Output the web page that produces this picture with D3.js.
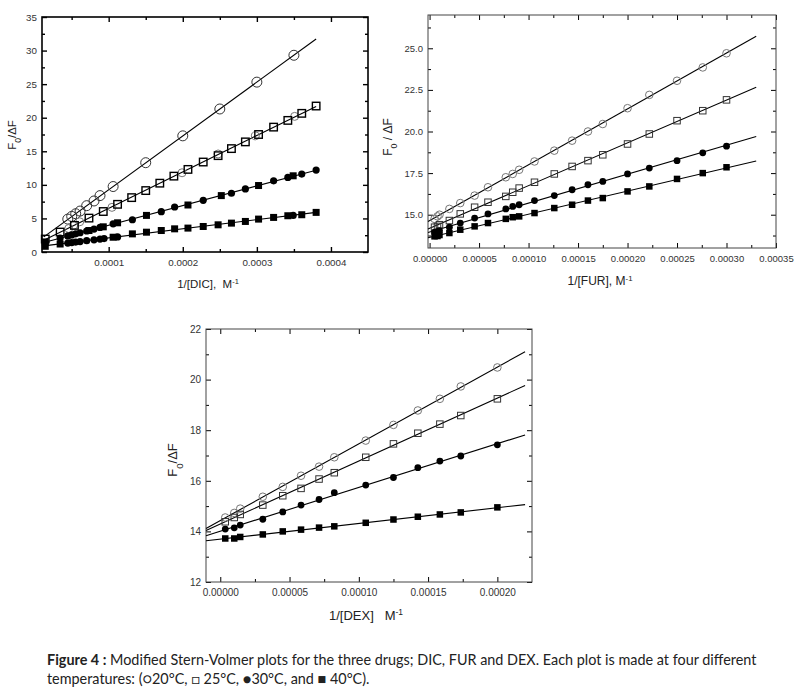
<!DOCTYPE html>
<html><head><meta charset="utf-8">
<script src="https://cdn.jsdelivr.net/npm/d3@7"></script>
<style>
body{margin:0;background:#fff;}
svg{display:block;}
.ax text{font-family:"Liberation Sans",Arial,sans-serif;font-size:9.5px;fill:#333;}
.ttl{font-family:"Liberation Sans",Arial,sans-serif;fill:#222;white-space:pre;}
.cap{font-family:Lato,"Open Sans",sans-serif;fill:#222;}
</style>
</head><body><svg id="c" width="800" height="698"></svg>
<script>
// ---------------- DATA ----------------
// Panel 1: DIC
const dicX20 = [0.0000448,0.0000501,0.0000555,0.0000614,0.0000703,0.0000802,0.0000883,0.000106,0.00015,0.0002,0.00025,0.0003,0.00035];
const dicY20 = [4.9,5.3,5.7,6.1,6.9,7.6,8.4,9.75,13.3,17.3,21.3,25.3,29.3];
const dicX25 = [0.0000144,0.0000345,0.0000538,0.0000734,0.0000927,0.000112,0.000131,0.00015,0.000169,0.000188,0.000207,0.0002276,0.0002477,0.0002657,0.0002845,0.0003023,0.0003226,0.0003418,0.0003606,0.00038];
const dicY25 = [1.93,2.97,3.96,5.05,6.03,7.1,8.1,9.15,10.25,11.3,12.3,13.4,14.35,15.4,16.4,17.5,18.6,19.6,20.65,21.74];
const dicX25c = [0.0000461,0.0000528,0.0000609,0.0001044,0.000199,0.0002477,0.000298,0.000351];
const dicY25c = [3.5,4.0,4.5,6.65,11.8,14.6,17.3,20.2];
const dicX30 = [0.0000345,0.0000448,0.0000501,0.0000555,0.0000614,0.0000703,0.0000802,0.0000883,0.000106,0.000132,0.000171,0.000189,0.0002276,0.0002657,0.0002845,0.0003226,0.0003418,0.0003606,0.00038];
const dicY30 = [2.08,2.4,2.55,2.7,2.87,3.13,3.42,3.66,4.2,4.8,6.0,6.7,7.7,8.75,9.4,10.6,11.1,11.6,12.2];
const dicX30s = [0.0000144,0.0000734,0.0000927,0.000112,0.000151,0.000207,0.000252,0.0003023,0.000349];
const dicY30s = [1.5,3.2,3.75,4.35,5.45,7.0,8.4,9.9,11.35];
const dicX40 = [0.0000144,0.0000345,0.000106,0.000132,0.000151,0.000171,0.000189,0.000207,0.0002276,0.0002477,0.0002657,0.0002845,0.0003023,0.0003226,0.0003418,0.0003606,0.00038];
const dicY40 = [0.85,1.19,2.2,2.7,2.95,3.2,3.45,3.56,3.8,4.05,4.3,4.55,4.9,5.15,5.4,5.55,5.9];
const dicX40c = [0.0000448,0.0000501,0.0000555,0.0000614,0.0000703,0.0000802,0.0000883,0.0000938,0.000112,0.000349];
const dicY40c = [1.33,1.4,1.48,1.56,1.68,1.81,1.92,2.0,2.25,5.45];
const dicXTicks = [0.0001,0.0002,0.0003,0.0004];
const dicYTicks = [0,5,10,15,20,25,30,35];

// Panel 2: FUR
const furX = [0.0000050,0.0000080,0.0000100,0.0000200,0.0000310,0.0000455,0.0000590,0.0000770,0.0000840,0.0000905,0.000106,0.000126,0.000144,0.000160,0.000175,0.000200,0.000222,0.000250,0.000276,0.000300];
const furY20 = [14.75,14.9,15.0,15.35,15.7,16.15,16.65,17.25,17.45,17.7,18.2,18.85,19.45,20.0,20.45,21.4,22.2,23.05,23.85,24.7];
const furY25 = [14.25,14.3,14.4,14.65,15.05,15.45,15.75,16.1,16.35,16.6,16.95,17.45,17.9,18.25,18.6,19.25,19.85,20.65,21.25,21.9];
const furY30 = [13.95,14.0,14.05,14.25,14.5,14.8,15.05,15.35,15.5,15.6,15.85,16.15,16.5,16.8,17.0,17.45,17.8,18.25,18.72,19.12];
const furY40 = [13.7,13.72,13.78,13.9,14.1,14.3,14.5,14.75,14.85,14.9,15.1,15.4,15.6,15.85,16.0,16.4,16.7,17.15,17.5,17.85];
const furXTicks = [0,0.00005,0.0001,0.00015,0.0002,0.00025,0.0003,0.00035];
const furYTicks = [15,17.5,20,22.5,25];

// Panel 3: DEX
const dexX = [0.0000036,0.0000101,0.0000144,0.0000307,0.0000451,0.0000583,0.0000713,0.0000823,0.000105,0.000125,0.0001426,0.0001585,0.0001736,0.0002];
const dexY20 = [14.55,14.73,14.9,15.37,15.76,16.2,16.56,16.93,17.59,18.21,18.78,19.24,19.73,20.48];
const dexY25 = [14.38,14.55,14.67,15.04,15.41,15.7,16.07,16.32,16.93,17.46,17.88,18.24,18.58,19.24];
const dexY30 = [14.09,14.14,14.25,14.48,14.77,15.04,15.26,15.53,15.83,16.13,16.52,16.78,16.98,17.42];
const dexY40 = [13.72,13.72,13.78,13.88,14.0,14.07,14.15,14.2,14.34,14.47,14.58,14.67,14.75,14.95];
const dexXTicks = [0,0.00005,0.0001,0.00015,0.0002];
const dexYTicks = [12,14,16,18,20,22];

const captionBold = "Figure 4 :";
const captionLine1 = " Modified Stern-Volmer plots for the three drugs; DIC, FUR and DEX. Each plot is made at four different";
const captionLine2 = "temperatures: (\u25CB20\u00B0C, \u25A1 25\u00B0C, \u25CF30\u00B0C, and \u25A0 40\u00B0C).";

// ---------------- DRAW ----------------
const svg = d3.select('#c');

function fit(xs, ys){
  const n = xs.length, mx = d3.mean(xs), my = d3.mean(ys);
  let sxy = 0, sxx = 0;
  for (let i=0;i<n;i++){ sxy += (xs[i]-mx)*(ys[i]-my); sxx += (xs[i]-mx)**2; }
  const b = sxy/sxx; return {b, a: my - b*mx};
}
function zip(xs, ys){ return xs.map((v,i)=>[v, ys[i]]); }

function marker(g, type, px, py, st){
  if (type === 'oc') g.append('circle').attr('cx',px).attr('cy',py).attr('r',st.r).attr('fill','none').attr('stroke',st.c||'#555').attr('stroke-width',st.w||1);
  else if (type === 'fc') g.append('circle').attr('cx',px).attr('cy',py).attr('r',st.r).attr('fill','#000');
  else if (type === 'os') g.append('rect').attr('x',px-st.s/2).attr('y',py-st.s/2).attr('width',st.s).attr('height',st.s).attr('fill','none').attr('stroke',st.c||'#000').attr('stroke-width',st.w||1.2);
  else if (type === 'fs') g.append('rect').attr('x',px-st.s/2).attr('y',py-st.s/2).attr('width',st.s).attr('height',st.s).attr('fill','#000');
}

function panel(o){
  const g = svg.append('g');
  const x = d3.scaleLinear().domain(o.xDomain).range([o.left, o.right]);
  const y = d3.scaleLinear().domain(o.yDomain).range([o.bottom, o.top]);
  const style = s => s.call(q=>q.select('.domain').remove())
    .call(q=>q.selectAll('line').attr('stroke','#000').attr('stroke-width',o.tw||1))
    .call(q=>q.selectAll('text').style('font-size',(o.lfs||9.5)+'px'));
  // bottom
  g.append('g').attr('class','ax').attr('transform',`translate(0,${o.bottom})`)
    .call(d3.axisBottom(x).tickValues(o.xMajor).tickFormat(o.xFmt).tickSize(-5).tickPadding(7)).call(style);
  g.append('g').attr('class','ax').attr('transform',`translate(0,${o.bottom})`)
    .call(d3.axisBottom(x).tickValues(o.xMinor).tickFormat('').tickSize(-3)).call(style);
  // top
  g.append('g').attr('class','ax').attr('transform',`translate(0,${o.top})`)
    .call(d3.axisTop(x).tickValues(o.xMajor).tickFormat('').tickSize(-5)).call(style);
  g.append('g').attr('class','ax').attr('transform',`translate(0,${o.top})`)
    .call(d3.axisTop(x).tickValues(o.xMinor).tickFormat('').tickSize(-3)).call(style);
  // left
  g.append('g').attr('class','ax').attr('transform',`translate(${o.left},0)`)
    .call(d3.axisLeft(y).tickValues(o.yMajor).tickFormat(o.yFmt).tickSize(-5).tickPadding(5)).call(style);
  g.append('g').attr('class','ax').attr('transform',`translate(${o.left},0)`)
    .call(d3.axisLeft(y).tickValues(o.yMinor).tickFormat('').tickSize(-3)).call(style);
  // right
  g.append('g').attr('class','ax').attr('transform',`translate(${o.right},0)`)
    .call(d3.axisRight(y).tickValues(o.yMajor).tickFormat('').tickSize(-5)).call(style);
  g.append('g').attr('class','ax').attr('transform',`translate(${o.right},0)`)
    .call(d3.axisRight(y).tickValues(o.yMinor).tickFormat('').tickSize(-3)).call(style);
  // frame
  g.append('rect').attr('x',o.left).attr('y',o.top).attr('width',o.right-o.left).attr('height',o.bottom-o.top)
    .attr('fill','none').attr('stroke',o.fc||'#000').attr('stroke-width',o.fw||1);
  // fit lines
  const line = d3.line().x(d=>x(d[0])).y(d=>y(d[1]));
  o.lines.forEach(L=>{
    const f = fit(L.xs, L.ys);
    const pts = L.ext.map(v=>[v, f.a + f.b*v]);
    g.append('path').attr('d', line(pts)).attr('fill','none').attr('stroke','#000').attr('stroke-width',1.1);
  });
  // markers
  o.series.forEach(S=>{
    zip(S.xs, S.ys).forEach(d=>marker(g, S.m, x(d[0]), y(d[1]), S.st));
  });
  // axis titles
  const xt = g.append('text').attr('class','ttl').attr('xml:space','preserve').attr('x',o.xtx).attr('y',o.xty).attr('text-anchor','middle').attr('font-size',o.tfs||11.5);
  o.xTitle(xt);
  const yt = g.append('text').attr('class','ttl').attr('transform',`translate(${o.ytx},${o.yty}) rotate(-90)`).attr('text-anchor','middle').attr('font-size',o.tfs||11.5);
  o.yTitle(yt);
}

function yTitleF(sep){
  return t=>{ t.append('tspan').text('F'); t.append('tspan').attr('baseline-shift','sub').attr('font-size','75%').text('0');
    t.append('tspan').text(sep+'\u0394F'); };
}
function xTitleM(main){
  return t=>{ t.append('tspan').text(main); t.append('tspan').attr('baseline-shift','super').attr('font-size','65%').text('-1'); };
}

// Panel DIC
panel({
  left:42, right:368, top:17, bottom:252, fw:1.6, tw:1.4, lfs:9.8,
  xDomain:[0.00001,0.00045], yDomain:[0,35],
  xMajor:dicXTicks, xMinor:[0.00005,0.00015,0.00025,0.00035],
  yMajor:dicYTicks, yMinor:[2.5,7.5,12.5,17.5,22.5,27.5,32.5],
  xFmt:d=>d.toFixed(4), yFmt:d3.format('d'),
  lines:[
    {xs:dicX20, ys:dicY20, ext:[0.0000125,0.00038]},
    {xs:dicX25.concat(dicX25c), ys:dicY25.concat(dicY25c), ext:[0.0000125,0.00038]},
    {xs:dicX30.concat(dicX30s), ys:dicY30.concat(dicY30s), ext:[0.0000125,0.00038]},
    {xs:dicX40.concat(dicX40c), ys:dicY40.concat(dicY40c), ext:[0.0000125,0.00038]}
  ],
  series:[
    {xs:dicX20, ys:dicY20, m:'oc', st:{r:5, c:'#333', w:1}},
    {xs:dicX25c, ys:dicY25c, m:'oc', st:{r:4, c:'#777', w:1}},
    {xs:dicX25, ys:dicY25, m:'os', st:{s:7.5, c:'#000', w:1.4}},
    {xs:dicX30, ys:dicY30, m:'fc', st:{r:3.6}},
    {xs:dicX30s, ys:dicY30s, m:'fs', st:{s:7}},
    {xs:dicX40, ys:dicY40, m:'fs', st:{s:7}},
    {xs:dicX40c, ys:dicY40c, m:'fc', st:{r:3.6}}
  ],
  xtx:208, xty:288, ytx:16, yty:135,
  xTitle:xTitleM('1/[DIC],\u00A0\u00A0M'), yTitle:yTitleF('/')
});

// Panel FUR
panel({
  left:428, right:776, top:15, bottom:248, fc:'#444',
  xDomain:[-0.0000016,0.00035], yDomain:[13,27],
  xMajor:furXTicks, xMinor:[0.000025,0.000075,0.000125,0.000175,0.000225,0.000275,0.000325],
  yMajor:furYTicks, yMinor:[13.75,16.25,18.75,21.25,23.75,26.25],
  xFmt:d=>d.toFixed(5), yFmt:d=>d.toFixed(1),
  lines:[
    {xs:furX, ys:furY20, ext:[-0.0000016,0.00033]},
    {xs:furX, ys:furY25, ext:[-0.0000016,0.00033]},
    {xs:furX, ys:furY30, ext:[-0.0000016,0.00033]},
    {xs:furX, ys:furY40, ext:[-0.0000016,0.00033]}
  ],
  series:[
    {xs:furX, ys:furY20, m:'oc', st:{r:3.8, c:'#777', w:1}},
    {xs:furX, ys:furY25, m:'os', st:{s:6.5, c:'#333', w:1}},
    {xs:furX, ys:furY30, m:'fc', st:{r:3.4}},
    {xs:furX, ys:furY40, m:'fs', st:{s:6.5}}
  ],
  xtx:600, xty:285, ytx:392, yty:137, tfs:12,
  xTitle:xTitleM('1/[FUR], M'), yTitle:yTitleF(' / ')
});

// Panel DEX
panel({
  left:206, right:532, top:329, bottom:582, fc:'#444', lfs:10,
  xDomain:[-0.0000103,0.000225], yDomain:[12,22],
  xMajor:dexXTicks, xMinor:[0.000025,0.000075,0.000125,0.000175],
  yMajor:dexYTicks, yMinor:[13,15,17,19,21],
  xFmt:d=>d.toFixed(5), yFmt:d3.format('d'),
  lines:[
    {xs:dexX, ys:dexY20, ext:[-0.0000103,0.00022]},
    {xs:dexX, ys:dexY25, ext:[-0.0000103,0.00022]},
    {xs:dexX, ys:dexY30, ext:[-0.0000103,0.00022]},
    {xs:dexX, ys:dexY40, ext:[-0.0000103,0.00022]}
  ],
  series:[
    {xs:dexX, ys:dexY20, m:'oc', st:{r:3.8, c:'#777', w:1}},
    {xs:dexX, ys:dexY25, m:'os', st:{s:6.5, c:'#333', w:1}},
    {xs:dexX, ys:dexY30, m:'fc', st:{r:3.4}},
    {xs:dexX, ys:dexY40, m:'fs', st:{s:6.5}}
  ],
  xtx:366, xty:620, ytx:177, yty:460, tfs:13,
  xTitle:xTitleM('1/[DEX]\u00A0\u00A0\u00A0M'), yTitle:yTitleF('/')
});

// Caption
const c1 = svg.append('text').attr('class','cap').attr('x',47).attr('y',665).attr('font-size',13.5);
c1.append('tspan').attr('font-weight','bold').text(captionBold);
c1.append('tspan').text(captionLine1);
const c2 = svg.append('text').attr('class','cap').attr('x',47).attr('y',684).attr('font-size',13.5).text(captionLine2);
// fit caption width to reference (~710px)
const w1 = c1.node().getComputedTextLength();
const fs = 13.5*710/w1;
c1.attr('font-size',fs); c2.attr('font-size',fs);
</script></body></html>
